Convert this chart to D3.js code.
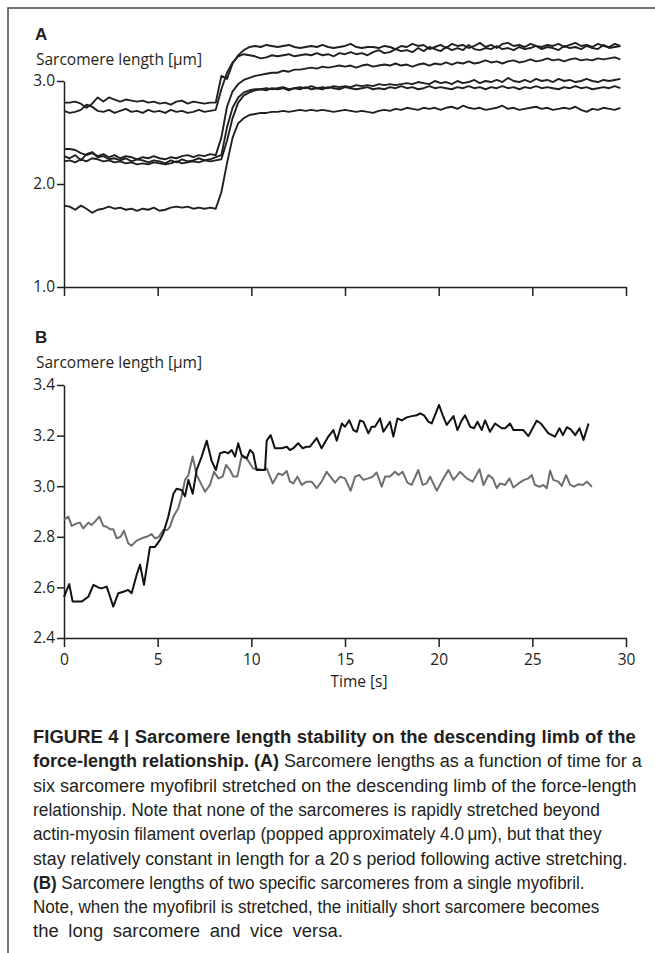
<!DOCTYPE html>
<html><head><meta charset="utf-8">
<script src="https://cdn.jsdelivr.net/npm/d3@7"></script>
<style>body{margin:0;background:#fff} svg{display:block}</style>
</head><body>
<svg id="chart" width="655" height="953"></svg>
<script>
// ---------- DATA ----------
// Panel A: six sarcomeres, sampled every 0.3 s from t = 0 s
const sampleIntervalA = 0.3;
const sarcA1 = [2.79,2.79,2.80,2.78,2.74,2.78,2.84,2.80,2.84,2.82,2.80,2.82,2.81,2.80,2.81,2.79,2.80,2.78,2.79,2.77,2.80,2.81,2.78,2.80,2.79,2.78,2.79,2.79,
 3.05,3.02,3.17,3.25,3.30,3.33,3.34,3.33,3.35,3.34,3.33,3.34,3.35,3.33,3.32,3.33,3.34,3.33,3.35,3.33,3.32,3.33,3.34,3.36,3.33,3.32,3.33,3.33,3.32,3.34,3.33,3.31,
 3.34,3.33,3.36,3.34,3.35,3.31,3.33,3.35,3.32,3.36,3.34,3.35,3.32,3.34,3.37,3.33,3.35,3.32,3.36,3.37,3.34,3.35,3.33,3.36,3.34,3.33,3.35,3.34,3.36,3.33,
 3.35,3.37,3.34,3.35,3.33,3.36,3.34,3.33,3.36,3.34];
const sarcA2 = [2.71,2.69,2.70,2.72,2.77,2.75,2.71,2.70,2.72,2.69,2.71,2.73,2.70,2.71,2.69,2.72,2.70,2.71,2.69,2.72,2.70,2.71,2.69,2.70,2.72,2.70,2.71,2.72,
 2.92,3.08,3.18,3.24,3.26,3.25,3.24,3.22,3.23,3.25,3.24,3.25,3.26,3.24,3.25,3.26,3.25,3.27,3.25,3.26,3.24,3.27,3.26,3.28,3.26,3.27,3.25,3.28,3.30,3.27,3.28,3.31,
 3.29,3.30,3.28,3.32,3.29,3.33,3.31,3.29,3.33,3.30,3.32,3.30,3.35,3.31,3.30,3.32,3.31,3.34,3.31,3.32,3.30,3.33,3.31,3.32,3.34,3.31,3.33,3.32,3.30,3.34,
 3.32,3.33,3.31,3.34,3.32,3.31,3.35,3.32,3.33,3.34];
const sarcA3 = [2.34,2.34,2.33,2.30,2.28,2.30,2.27,2.29,2.26,2.28,2.25,2.27,2.26,2.24,2.26,2.25,2.27,2.25,2.24,2.26,2.25,2.27,2.28,2.26,2.28,2.27,2.29,2.28,
 2.45,2.75,2.90,2.97,3.01,3.03,3.05,3.06,3.07,3.08,3.08,3.10,3.09,3.11,3.11,3.12,3.13,3.12,3.14,3.13,3.14,3.15,3.14,3.15,3.13,3.15,3.16,3.14,3.15,3.16,3.15,3.17,
 3.15,3.16,3.14,3.16,3.17,3.15,3.17,3.16,3.18,3.16,3.18,3.17,3.19,3.17,3.18,3.20,3.18,3.19,3.17,3.19,3.20,3.18,3.19,3.21,3.19,3.20,3.22,3.20,3.21,3.19,
 3.21,3.22,3.20,3.21,3.20,3.22,3.21,3.22,3.23,3.21];
const sarcA4 = [2.27,2.25,2.28,2.23,2.29,2.31,2.26,2.27,2.24,2.25,2.23,2.25,2.22,2.24,2.23,2.21,2.23,2.22,2.20,2.23,2.21,2.24,2.22,2.23,2.25,2.23,2.24,2.26,
 2.28,2.55,2.74,2.84,2.89,2.91,2.92,2.92,2.93,2.92,2.93,2.94,2.92,2.93,2.94,2.93,2.95,2.93,2.94,2.93,2.95,2.94,2.95,2.94,2.96,2.95,2.96,2.95,2.97,2.96,2.97,2.96,
 2.97,2.98,2.97,2.99,2.98,2.97,3.00,2.98,2.99,2.97,3.00,2.98,2.99,3.01,2.98,3.00,2.99,3.01,2.99,3.03,3.00,2.99,3.01,2.99,3.02,3.00,3.01,2.99,3.02,3.00,
 3.01,2.99,3.00,3.02,3.00,2.99,3.01,3.00,3.01,3.02];
const sarcA5 = [2.22,2.23,2.21,2.24,2.22,2.25,2.24,2.22,2.23,2.21,2.22,2.20,2.21,2.19,2.20,2.19,2.21,2.20,2.19,2.20,2.22,2.20,2.21,2.22,2.21,2.23,2.22,2.23,
 2.24,2.42,2.64,2.79,2.86,2.89,2.91,2.92,2.91,2.93,2.92,2.93,2.91,2.93,2.92,2.94,2.92,2.93,2.92,2.94,2.93,2.92,2.94,2.93,2.92,2.93,2.94,2.92,2.93,2.92,2.94,2.93,
 2.95,2.93,2.94,2.92,2.93,2.95,2.93,2.94,2.93,2.92,2.94,2.93,2.95,2.93,2.94,2.92,2.94,2.93,2.95,2.93,2.94,2.92,2.94,2.93,2.95,2.93,2.94,2.93,2.92,2.94,
 2.93,2.95,2.93,2.94,2.92,2.93,2.94,2.93,2.95,2.93];
const sarcA6 = [1.79,1.78,1.75,1.79,1.76,1.72,1.75,1.76,1.78,1.76,1.77,1.75,1.76,1.74,1.76,1.75,1.77,1.74,1.75,1.77,1.78,1.77,1.78,1.76,1.77,1.76,1.77,1.76,
 1.92,2.20,2.45,2.59,2.64,2.67,2.68,2.69,2.69,2.70,2.70,2.71,2.70,2.71,2.72,2.71,2.72,2.71,2.72,2.71,2.70,2.71,2.72,2.71,2.70,2.71,2.70,2.69,2.71,2.72,2.71,2.73,
 2.72,2.74,2.73,2.72,2.74,2.73,2.74,2.72,2.74,2.75,2.73,2.76,2.74,2.73,2.74,2.72,2.73,2.74,2.76,2.73,2.74,2.72,2.73,2.74,2.75,2.73,2.74,2.72,2.73,2.74,
 2.73,2.75,2.72,2.70,2.73,2.72,2.74,2.73,2.72,2.74];
const seriesA = [sarcA1, sarcA2, sarcA3, sarcA4, sarcA5, sarcA6];

// Panel B: initially short sarcomere (black) and initially long sarcomere (gray)
const timeBShort = [0,0.28,0.46,0.94,1.3,1.57,1.83,2.0,2.28,2.46,2.63,2.9,3.17,3.43,3.61,3.88,4.06,4.27,4.59,4.86,5.12,5.3,5.57,5.84,6.01,6.28,6.46,6.64,6.87,7.08,
 7.35,7.62,7.88,8.11,8.33,8.59,8.77,8.95,9.13,9.3,9.48,9.75,9.93,10.1,10.28,10.73,10.82,11.03,11.26,11.62,11.89,12.06,12.24,12.5,12.74,12.95,13.13,13.49,13.75,
 14.11,14.38,14.56,14.83,15.0,15.23,15.45,15.63,15.8,15.98,16.25,16.42,16.6,16.87,17.05,17.4,17.58,17.8,18.03,18.3,18.57,18.83,19.01,19.22,19.45,19.63,20.02,
 20.22,20.43,20.79,21.0,21.23,21.41,21.68,21.89,22.07,22.3,22.48,22.74,23.01,23.37,23.55,23.81,23.99,24.35,24.52,24.79,25.23,25.45,25.86,26.21,26.45,26.63,
 26.84,27.05,27.29,27.52,27.73,28.0];
const lengthBShort = [2.563,2.613,2.544,2.544,2.563,2.61,2.60,2.596,2.603,2.563,2.524,2.577,2.583,2.59,2.577,2.65,2.69,2.61,2.76,2.76,2.787,2.814,2.88,2.97,2.99,2.985,2.96,3.025,2.97,3.064,
 3.117,3.18,3.10,3.064,3.13,3.136,3.13,3.143,3.117,3.17,3.123,3.11,3.143,3.13,3.064,3.064,3.18,3.202,3.15,3.15,3.156,3.143,3.15,3.17,3.15,3.156,3.156,3.19,3.15,
 3.196,3.222,3.18,3.248,3.235,3.26,3.222,3.215,3.26,3.255,3.209,3.235,3.235,3.268,3.215,3.255,3.196,3.268,3.26,3.272,3.277,3.28,3.288,3.28,3.255,3.248,3.321,
 3.28,3.242,3.277,3.222,3.26,3.28,3.235,3.229,3.255,3.222,3.26,3.215,3.248,3.229,3.229,3.248,3.222,3.222,3.222,3.198,3.259,3.248,3.209,3.196,3.229,3.202,
 3.233,3.225,3.202,3.229,3.183,3.248];
const timeBLong = [0,0.23,0.41,0.68,0.85,1.03,1.3,1.48,1.65,1.89,2.1,2.28,2.46,2.63,2.81,3.02,3.2,3.43,3.61,3.88,4.15,4.41,4.68,4.86,5.04,5.3,5.52,5.66,5.84,6.1,
 6.28,6.46,6.64,6.87,7.08,7.26,7.53,7.79,8.01,8.24,8.47,8.65,8.86,9.04,9.25,9.48,9.75,10.1,10.64,10.82,11.14,11.44,11.67,11.89,12.06,12.24,12.46,12.69,12.95,
 13.22,13.49,13.75,14.02,14.47,14.74,15.0,15.3,15.54,15.77,15.98,16.25,16.48,16.69,16.96,17.14,17.4,17.67,17.85,18.08,18.33,18.56,18.91,19.15,19.36,19.54,
 19.9,20.21,20.52,20.79,21.14,21.5,21.82,22.18,22.39,22.66,22.89,23.1,23.28,23.55,23.78,23.99,24.26,24.56,24.79,24.97,25.14,25.41,25.59,25.77,25.95,26.12,
 26.39,26.57,26.8,27.02,27.23,27.46,27.7,27.91,28.18];
const lengthBLong = [2.866,2.88,2.843,2.853,2.856,2.833,2.856,2.847,2.86,2.88,2.843,2.84,2.83,2.83,2.794,2.80,2.824,2.774,2.765,2.785,2.794,2.80,2.811,2.794,2.798,2.827,2.827,2.84,2.88,2.913,
 2.96,3.025,3.044,3.117,3.044,3.018,2.978,3.005,3.057,3.031,3.038,3.084,3.064,3.038,3.038,3.117,3.11,3.07,3.064,3.07,3.011,3.05,3.044,3.06,3.018,3.011,3.038,3.005,3.018,
 3.018,2.992,3.018,3.057,3.014,3.038,3.031,2.982,3.038,3.044,3.025,3.031,3.038,3.054,2.998,3.038,3.038,3.057,3.044,3.057,3.014,3.005,3.064,3.005,3.011,3.038,
 2.982,3.025,3.064,3.025,3.057,3.031,3.018,3.067,3.005,3.044,3.031,2.992,3.011,3.005,3.031,2.995,3.011,3.025,3.031,3.044,3.005,2.998,3.005,2.992,3.061,3.025,
 3.018,3.001,3.044,3.005,2.998,3.008,3.005,3.018,2.998];

const ticksTime = [0, 5, 10, 15, 20, 25, 30];
const ticksYA = [1.0, 2.0, 3.0];
const ticksYB = [2.4, 2.6, 2.8, 3.0, 3.2, 3.4];
const yTitle = "Sarcomere length [\u03bcm]";
const xTitle = "Time [s]";

const captionLines = [
  [["FIGURE 4 | Sarcomere length stability on the descending limb of the", true]],
  [["force-length relationship. (A)", true], [" Sarcomere lengths as a function of time for a", false]],
  [["six sarcomere myofibril stretched on the descending limb of the force-length", false]],
  [["relationship. Note that none of the sarcomeres is rapidly stretched beyond", false]],
  [["actin-myosin filament overlap (popped approximately 4.0\u2009\u03bcm), but that they", false]],
  [["stay relatively constant in length for a 20\u2009s period following active stretching.", false]],
  [["(B)", true], [" Sarcomere lengths of two specific sarcomeres from a single myofibril.", false]],
  [["Note, when the myofibril is stretched, the initially short sarcomere becomes", false]],
  [["the long sarcomere and vice versa.", false]]
];

// ---------- LAYOUT ----------
const svg = d3.select("#chart");
const ink = "#231f20";
const axisFont = "'Open Sans', 'Noto Sans', sans-serif";

// frame
svg.append("path").attr("d", "M8,953 L8,8 L655,8").attr("fill", "none")
  .attr("stroke", "#444").attr("stroke-width", 1.5);

const x = d3.scaleLinear().domain([0, 30]).range([64, 626]);
const yA = d3.scaleLinear().domain([1, 3]).range([287, 81]);
const yB = d3.scaleLinear().domain([2.4, 3.4]).range([638, 385]);

function styleAxis(g) {
  g.selectAll("path.domain").attr("stroke", ink).attr("stroke-width", 1.5);
  g.selectAll(".tick line").attr("stroke", ink).attr("stroke-width", 1.5);
  g.selectAll(".tick text").attr("fill", ink).attr("font-family", axisFont).attr("font-size", 15.5);
}

// Panel A
svg.append("text").attr("x", 35).attr("y", 40).text("A")
  .attr("font-family", "'Liberation Sans', Arial, sans-serif").attr("font-weight", "bold")
  .attr("font-size", 17).attr("fill", ink);
svg.append("text").attr("x", 36).attr("y", 65).text(yTitle)
  .attr("font-family", axisFont).attr("font-size", 15.5).attr("fill", ink)
  .attr("textLength", 166).attr("lengthAdjust", "spacingAndGlyphs");

const gAy = svg.append("g").attr("transform", "translate(64,0)")
  .call(d3.axisLeft(yA).tickValues(ticksYA).tickFormat(d3.format(".1f")).tickSize(7).tickPadding(2).tickSizeOuter(0));
styleAxis(gAy);
const gAx = svg.append("g").attr("transform", "translate(0,287)")
  .call(d3.axisBottom(x).tickValues(ticksTime).tickFormat("").tickSize(9).tickSizeOuter(0));
styleAxis(gAx);

const lineA = d3.line().x((d, i) => x(i * sampleIntervalA)).y(d => yA(d));
svg.append("g").selectAll("path").data(seriesA).join("path")
  .attr("d", lineA).attr("fill", "none").attr("stroke", ink)
  .attr("stroke-width", 1.9).attr("stroke-linejoin", "round");

// Panel B
svg.append("text").attr("x", 35).attr("y", 343).text("B")
  .attr("font-family", "'Liberation Sans', Arial, sans-serif").attr("font-weight", "bold")
  .attr("font-size", 17).attr("fill", ink);
svg.append("text").attr("x", 36).attr("y", 368).text(yTitle)
  .attr("font-family", axisFont).attr("font-size", 15.5).attr("fill", ink)
  .attr("textLength", 166).attr("lengthAdjust", "spacingAndGlyphs");

const gBy = svg.append("g").attr("transform", "translate(64,0)")
  .call(d3.axisLeft(yB).tickValues(ticksYB).tickFormat(d3.format(".1f")).tickSize(7).tickPadding(2).tickSizeOuter(0));
styleAxis(gBy);
const gBx = svg.append("g").attr("transform", "translate(0,638)")
  .call(d3.axisBottom(x).tickValues(ticksTime).tickFormat(d3.format("d")).tickSize(9).tickPadding(7).tickSizeOuter(0));
styleAxis(gBx);
svg.append("text").attr("x", 359).attr("y", 687).attr("text-anchor", "middle").text(xTitle)
  .attr("font-family", axisFont).attr("font-size", 15.5).attr("fill", ink);

const lineB = d3.line().x(d => x(d[0])).y(d => yB(d[1]));
svg.append("path").datum(d3.zip(timeBLong, lengthBLong)).attr("d", lineB)
  .attr("fill", "none").attr("stroke", "#6d6e71").attr("stroke-width", 2).attr("stroke-linejoin", "round");
svg.append("path").datum(d3.zip(timeBShort, lengthBShort)).attr("d", lineB)
  .attr("fill", "none").attr("stroke", "#111").attr("stroke-width", 2).attr("stroke-linejoin", "round");

// Caption: condensed face emulated with a horizontal glyph scale (kept near a common value);
// any remaining difference to the line's width is taken up by word spacing
const capX = 33, capBase = 743, capLead = 24.3;
const capWidths = [603, 609, 604, 567, 569, 595, 552, 567, 310];
const cap = svg.append("g").attr("font-family", "'Liberation Sans', Arial, sans-serif")
  .attr("font-size", 19).attr("fill", ink).style("white-space", "pre");
const capTexts = captionLines.map(segs => {
  const t = cap.append("text").attr("x", 0).attr("y", 0);
  segs.forEach(([s, b]) => t.append("tspan").attr("font-weight", b ? "bold" : "normal").text(s));
  return t;
});
const natural = capTexts.map(t => t.node().getComputedTextLength());
const ratios = natural.map((w, i) => capWidths[i] / w);
const medScale = d3.median(ratios.slice(2, 8));
capTexts.forEach((t, i) => {
  const s = Math.max(medScale * 0.96, Math.min(medScale * 1.07, ratios[i]));
  const nSpaces = captionLines[i].map(p => p[0]).join("").split(" ").length - 1;
  const extra = (capWidths[i] / s - natural[i]) / Math.max(1, nSpaces);
  t.attr("word-spacing", extra.toFixed(2))
   .attr("transform", `translate(${capX},${capBase + i * capLead}) scale(${s},1)`);
});
</script>
</body></html>
